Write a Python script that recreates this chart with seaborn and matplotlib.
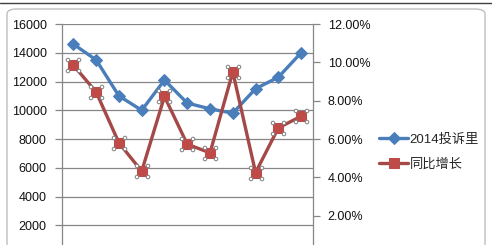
import matplotlib
matplotlib.use("Agg")
import matplotlib.pyplot as plt
import seaborn as sns
import pandas as pd
from matplotlib.patches import FancyBboxPatch
from matplotlib.path import Path
from matplotlib.ticker import FuncFormatter, FixedLocator
from matplotlib.lines import Line2D

months = ["1月", "2月", "3月", "4月", "5月", "6月", "7月", "8月", "9月", "10月", "11月"]
complaints = [14600, 13500, 11000, 10000, 12100, 10500, 10100, 9800, 11500, 12300, 14000]
growth = [9.85, 8.45, 5.8, 4.32, 8.22, 5.73, 5.28, 9.5, 4.25, 6.58, 7.19]
left_ticks = [2000, 4000, 6000, 8000, 10000, 12000, 14000, 16000]
right_ticks = [2, 4, 6, 8, 10, 12]
label_a = "2014投诉里"
label_b = "同比增长"

sns.set_theme(style="white")
plt.rcParams["font.family"] = ["Liberation Sans", "Noto Sans CJK SC", "DejaVu Sans"]

df = pd.DataFrame({"pos": range(len(months)), "month": months,
                   "complaints": complaints, "growth": growth})

blue = "#4A7EBB"
red_line = "#A54848"
red_mk = "#BE4B48"
grid_c = "#868686"

fig = plt.figure(figsize=(4.92, 2.45), dpi=100)
fig.patch.set_facecolor("white")

# chart border
border = FancyBboxPatch((7 / 492, -0.2), 478 / 492, 1 - 9 / 245 + 0.2,
                        boxstyle="round,pad=0,rounding_size=0.02",
                        transform=fig.transFigure, facecolor="white",
                        edgecolor="#BFBFBF", linewidth=1.0, zorder=-5)
fig.patches.append(border)
fig.add_artist(Line2D([0, 1], [1 - 3 / 245, 1 - 3 / 245], transform=fig.transFigure,
                      color="#404040", linewidth=1.0, zorder=-4))

ax = fig.add_axes([62 / 492, -0.037, 250.5 / 492, 0.939], zorder=2)
ax.set_facecolor("none")
sns.lineplot(data=df, x="pos", y="complaints", ax=ax, color=blue, marker="D",
             markersize=6, markeredgecolor=blue, linewidth=2.4, label=label_a, legend=False)
ax.set_ylim(0, 16000)
ax.set_xlim(-0.5, len(months) - 0.5)
ax.yaxis.set_major_locator(FixedLocator(left_ticks))
ax.grid(axis="y", color=grid_c, linewidth=0.9)
ax.set_axisbelow(True)
ax.set_xticks([])
ax.set_xlabel("")
ax.set_ylabel("")
for s in ["top", "bottom", "right"]:
    ax.spines[s].set_visible(False)
ax.spines["left"].set_color(grid_c)
ax.spines["left"].set_linewidth(0.9)
ax.tick_params(axis="y", left=True, length=5, width=0.9, color=grid_c,
               labelsize=9, labelcolor="#111111", pad=6)

ax2 = ax.twinx()
sns.lineplot(data=df, x="pos", y="growth", ax=ax2, color=red_line, marker="s",
             markersize=7, markerfacecolor=red_mk, markeredgecolor=red_mk,
             linewidth=2.4, label=label_b, legend=False)

# selection handles around the red markers (four small circles)
handle_path = Path.make_compound_path(*[Path.circle((cx, cy), 0.32)
                                        for cx, cy in [(-1, -1), (1, -1), (-1, 1), (1, 1)]])
sns.scatterplot(data=df, x="pos", y="growth", ax=ax2, marker=handle_path, s=110,
                facecolor="white", edgecolor="#7F7F7F", linewidth=0.7, legend=False, zorder=5)

ax2.set_ylim(0, 12)
ax2.yaxis.set_major_locator(FixedLocator(right_ticks))
ax2.yaxis.set_major_formatter(FuncFormatter(lambda v, p: f"{v:.2f}%"))
ax2.set_ylabel("")
ax2.set_xlabel("")
ax2.grid(False)
for s in ["top", "bottom", "left"]:
    ax2.spines[s].set_visible(False)
ax2.spines["right"].set_color(grid_c)
ax2.spines["right"].set_linewidth(0.9)
ax2.tick_params(axis="y", right=True, length=5, width=0.9, color=grid_c,
                labelsize=9, labelcolor="#111111", pad=6)
ax.set_xlim(-0.5, len(months) - 0.5)

h1, l1 = ax.get_legend_handles_labels()
h2, l2 = ax2.get_legend_handles_labels()
fig.legend(h1 + h2, l1 + l2, loc="center left", bbox_to_anchor=(374 / 492, 1 - 152 / 245),
           frameon=False, fontsize=9.5, handlelength=2.2, handletextpad=0.1,
           labelspacing=0.9, borderaxespad=0)

fig.savefig("out.png", dpi=100)
